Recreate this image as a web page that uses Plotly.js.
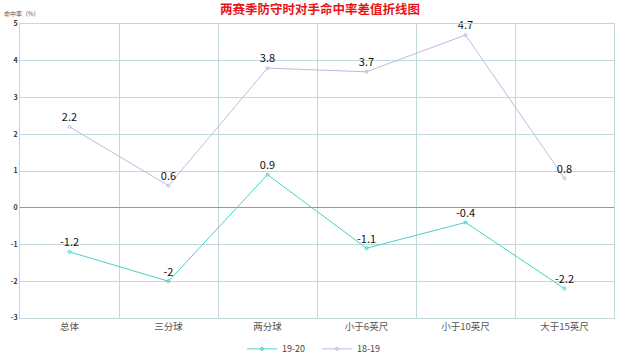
<!DOCTYPE html>
<html><head><meta charset="utf-8">
<script src="https://cdn.plot.ly/plotly-3.0.1.min.js"></script>
<style>html,body{margin:0;padding:0;background:#fff}#c{width:640px;height:356px}</style>
</head><body><div id="c"></div>
<script>
var categories = ["总体","三分球","两分球","小于6英尺","小于10英尺","大于15英尺"];
var s1920 = [-1.2, -2, 0.9, -1.1, -0.4, -2.2];
var s1819 = [2.2, 0.6, 3.8, 3.7, 4.7, 0.8];
var yTicks = [-3,-2,-1,0,1,2,3,4,5];
var font = "'Noto Sans CJK SC', 'Noto Sans', sans-serif";
function tr(name, y, color){
  return {x: categories, y: y, name: name, type: 'scatter', mode: 'lines+markers+text',
    line: {color: color, width: 1},
    marker: {symbol: 'circle-open', size: 3, color: color},
    text: y.map(String), textposition: 'top center', cliponaxis: false,
    textfont: {family: font, size: 11, color: '#111'}};
}
var data = [tr('19-20', s1920, '#48d1c6'), tr('18-19', s1819, '#c3b8e0')];
var layout = {
  width: 640, height: 356,
  margin: {l: 20, r: 26, t: 24, b: 38, autoexpand: false},
  paper_bgcolor: '#fff', plot_bgcolor: '#fff',
  title: {text: '两赛季防守时对手命中率差值折线图', x: 0.5, xanchor: 'center', y: 0.985, yanchor: 'top',
    font: {family: font, size: 12.5, color: '#e8141b', weight: 'bold'}},
  xaxis: {type: 'category', range: [-0.5, 5.5], tickson: 'boundaries', showgrid: true,
    gridcolor: '#c2d8db', gridwidth: 1, ticks: '', linecolor: '#c2d8db', mirror: true, showline: true,
    tickfont: {family: font, size: 9.5, color: '#555'}, zeroline: false},
  yaxis: {range: [-3, 5], tickvals: yTicks, ticktext: yTicks.map(String), showgrid: true,
    gridcolor: '#c2d8db', zeroline: true, zerolinecolor: '#74a7b3', zerolinewidth: 1,
    showline: true, linecolor: '#c2d8db', mirror: true, ticks: '', ticklen: 0,
    tickfont: {family: font, size: 7, color: '#333', weight: 'bold'}},
  showlegend: true,
  legend: {orientation: 'h', x: 0.5, xanchor: 'center', yref: 'container', y: 0.02, yanchor: 'middle',
    bgcolor: 'rgba(0,0,0,0)', font: {family: font, size: 9, color: '#444'}, tracegroupgap: 0, entrywidth: 30},
  annotations: [{text: '命中率（%）', xref: 'paper', yref: 'paper', x: 0, y: 1, xshift: -18, yshift: 4,
    xanchor: 'left', yanchor: 'bottom', showarrow: false, font: {family: font, size: 6, color: '#555'}}]
};
Plotly.newPlot('c', data, layout, {displayModeBar: false, staticPlot: true});
</script></body></html>
